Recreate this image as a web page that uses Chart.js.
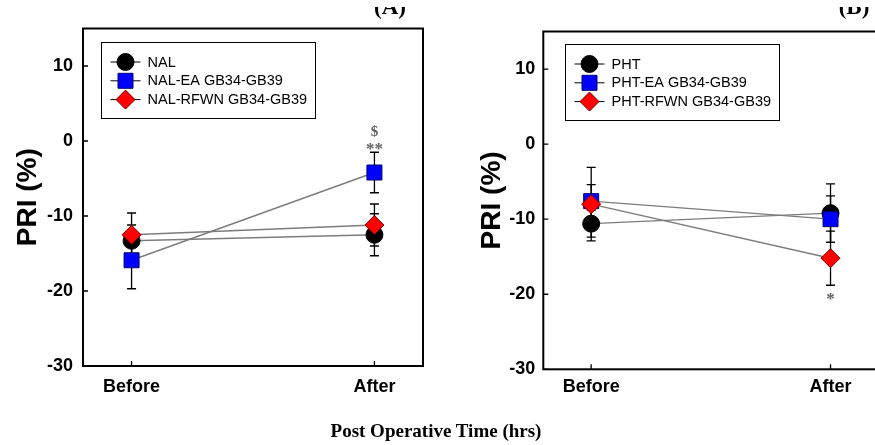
<!DOCTYPE html>
<html>
<head>
<meta charset="utf-8">
<title>PRI before / after</title>
<script src="https://cdn.jsdelivr.net/npm/chart.js@4.4.1/dist/chart.umd.min.js"></script>
<style>
    html, body { margin: 0; padding: 0; background: #fff; }
    body { width: 875px; height: 445px; overflow: hidden; position: relative; }
    canvas { position: absolute; top: 0; }
    #panelA { left: 0; }
    #panelB { left: 440px; }
    #xTitle {
        position: absolute; left: 0; width: 872px; top: 420px;
        text-align: center; line-height: 19px;
        font: bold 19px "Liberation Serif", "Times New Roman", serif;
        color: #000;
    }
</style>
</head>
<body>
<canvas id="panelA" width="440" height="445"></canvas>
<canvas id="panelB" width="450" height="445"></canvas>
<div id="xTitle">Post Operative Time (hrs)</div>

<script>
// Données
const timePoints = ['Before', 'After'];
const yTicks = [-30, -20, -10, 0, 10];
const yLabel = 'PRI (%)';

// Panneau A
const nalLabels = ['NAL', 'NAL-EA GB34-GB39', 'NAL-RFWN GB34-GB39'];
const nalMean = [-13.3, -12.5];
const nalErr = [2.1, 2.8];
const nalEaMean = [-15.9, -4.2];
const nalEaErr = [3.8, 2.7];
const nalRfwnMean = [-12.5, -11.2];
const nalRfwnErr = [2.9, 2.8];
const nalSig = [{ series: 1, point: 1, side: 'above', marks: ['**', '$'] }];

// Panneau B
const phtLabels = ['PHT', 'PHT-EA GB34-GB39', 'PHT-RFWN GB34-GB39'];
const phtMean = [-10.6, -9.2];
const phtErr = [1.8, 3.9];
const phtEaMean = [-7.6, -10.0];
const phtEaErr = [2.2, 3.1];
const phtRfwnMean = [-8.0, -15.2];
const phtRfwnErr = [4.9, 3.6];
const phtSig = [{ series: 2, point: 1, side: 'below', marks: ['*'] }];

// Styles des séries (cercle noir, carré bleu, losange rouge)
const seriesStyles = [
    { shape: 'circle', radius: 8.5, fill: '#000000', edge: '#000000', order: 3 },
    { shape: 'rect', radius: 10.6, fill: '#0000ff', edge: '#00006e', order: 2 },
    { shape: 'rectRot', radius: 9.5, fill: '#ff0000', edge: '#7a0000', order: 1 }
];

const SANS = '"Liberation Sans", Arial, sans-serif';
const SERIF = '"Liberation Serif", "Times New Roman", serif';

// Plugin de décoration : barres d'erreur, cadre, graduations, légende, titres
function makeDecor(cfg) {
    return {
        id: 'decor_' + cfg.name,
        beforeDatasetsDraw(chart) {
            const ctx = chart.ctx;
            const xs = chart.scales.x, ys = chart.scales.y;
            ctx.save();
            ctx.strokeStyle = '#000';
            ctx.lineWidth = 1.3;
            cfg.series.forEach(s => {
                s.mean.forEach((m, i) => {
                    const px = xs.getPixelForValue(i);
                    const top = ys.getPixelForValue(m + s.err[i]);
                    const bot = ys.getPixelForValue(m - s.err[i]);
                    ctx.beginPath();
                    ctx.moveTo(px, top); ctx.lineTo(px, bot);
                    ctx.moveTo(px - 4.5, top); ctx.lineTo(px + 4.5, top);
                    ctx.moveTo(px - 4.5, bot); ctx.lineTo(px + 4.5, bot);
                    ctx.stroke();
                });
            });
            ctx.restore();
        },
        afterDraw(chart) {
            const ctx = chart.ctx;
            const area = chart.chartArea;
            const xs = chart.scales.x, ys = chart.scales.y;
            ctx.save();

            // cadre
            ctx.strokeStyle = '#000';
            ctx.lineWidth = 2;
            ctx.strokeRect(area.left, area.top, area.right - area.left, area.bottom - area.top);

            // graduations vers l'intérieur
            ctx.lineWidth = 1.3;
            ctx.beginPath();
            yTicks.forEach(v => {
                const py = ys.getPixelForValue(v);
                ctx.moveTo(area.left, py); ctx.lineTo(area.left + 5, py);
            });
            timePoints.forEach((_, i) => {
                const px = xs.getPixelForValue(i);
                ctx.moveTo(px, area.bottom); ctx.lineTo(px, area.bottom - 5);
            });
            ctx.stroke();

            // titre de l'axe Y
            ctx.save();
            ctx.translate(cfg.yTitleX, (area.top + area.bottom) / 2);
            ctx.rotate(-Math.PI / 2);
            ctx.fillStyle = '#000';
            ctx.font = 'bold 28px ' + SANS;
            ctx.textAlign = 'center';
            ctx.textBaseline = 'middle';
            ctx.fillText(yLabel, 0, 0);
            ctx.restore();

            // étiquette du panneau (coupée en haut comme sur l'original)
            ctx.save();
            ctx.beginPath();
            ctx.rect(0, 7, chart.width, 20);
            ctx.clip();
            ctx.fillStyle = '#000';
            ctx.font = 'bold 23px ' + SERIF;
            ctx.textAlign = 'center';
            ctx.textBaseline = 'alphabetic';
            ctx.fillText(cfg.panelLabel, cfg.panelLabelX, 14);
            ctx.restore();

            // marques de significativité
            ctx.fillStyle = '#5f5f5f';
            ctx.textAlign = 'center';
            ctx.textBaseline = 'middle';
            cfg.sig.forEach(sg => {
                const s = cfg.series[sg.series];
                const px = xs.getPixelForValue(sg.point);
                const m = s.mean[sg.point], e = s.err[sg.point];
                sg.marks.forEach(txt => {
                    const isStar = txt.indexOf('*') >= 0;
                    ctx.font = 'bold ' + (isStar ? 17 : 15) + 'px ' + SERIF;
                    let py;
                    if (sg.side === 'above') {
                        py = ys.getPixelForValue(m + e) - (isStar ? 3 : 20);
                    } else {
                        py = ys.getPixelForValue(m - e) + 14;
                    }
                    ctx.fillText(txt, px, py);
                });
            });

            // légende
            ctx.font = '14.5px ' + SANS;
            const textW = Math.max(...cfg.series.map(s => ctx.measureText(s.label).width));
            const bx = Math.round(area.left + cfg.legendDx) + 0.5;
            const by = Math.round(area.top + cfg.legendDy) + 0.5;
            ctx.fillStyle = '#fff';
            ctx.fillRect(bx, by, 46 + textW + 8, 76);
            ctx.strokeStyle = '#000';
            ctx.lineWidth = 1;
            ctx.strokeRect(bx, by, Math.round(46 + textW + 8), 76);
            cfg.series.forEach((s, k) => {
                const st = seriesStyles[k];
                const cy = by + 19.5 + k * 18.8;
                ctx.strokeStyle = '#000';
                ctx.lineWidth = 1;
                ctx.beginPath();
                ctx.moveTo(bx + 9, cy); ctx.lineTo(bx + 39, cy);
                ctx.stroke();
                ctx.fillStyle = st.fill;
                ctx.strokeStyle = st.edge;
                Chart.helpers.drawPoint(ctx, {
                    pointStyle: st.shape, radius: st.radius, rotation: 0, borderWidth: 1
                }, bx + 24, cy);
                ctx.fillStyle = '#000';
                ctx.textAlign = 'left';
                ctx.textBaseline = 'middle';
                ctx.fillText(s.label, bx + 46, cy + 0.5);
            });

            ctx.restore();
        }
    };
}

function buildPanel(canvasId, cfg) {
    const datasets = cfg.series.map((s, k) => {
        const st = seriesStyles[k];
        return {
            label: s.label,
            data: s.mean.map((v, i) => ({ x: i, y: v })),
            borderColor: '#7c7c7c',
            borderWidth: 1.4,
            tension: 0,
            fill: false,
            pointStyle: st.shape,
            pointRadius: st.radius,
            pointBackgroundColor: st.fill,
            pointBorderColor: st.edge,
            pointBorderWidth: 1,
            order: st.order
        };
    });

    const tickFont = { family: SANS, weight: 'bold', size: 18 };

    return new Chart(document.getElementById(canvasId), {
        type: 'line',
        data: { datasets },
        options: {
            responsive: false,
            animation: false,
            events: [],
            clip: false,
            layout: { padding: { top: cfg.padTop, right: cfg.padRight, left: 0, bottom: 0 } },
            plugins: { legend: { display: false }, tooltip: { enabled: false } },
            scales: {
                x: {
                    type: 'linear',
                    min: -0.2,
                    max: 1.2,
                    afterBuildTicks: scale => { scale.ticks = timePoints.map((_, i) => ({ value: i })); },
                    afterFit: scale => { scale.height = cfg.xAxisHeight; },
                    grid: { display: false, drawTicks: false },
                    border: { display: false },
                    ticks: {
                        autoSkip: false,
                        maxRotation: 0,
                        padding: cfg.xTickPad,
                        color: '#000',
                        font: tickFont,
                        callback: v => timePoints[v]
                    }
                },
                y: {
                    type: 'linear',
                    min: -30,
                    max: 15,
                    afterBuildTicks: scale => { scale.ticks = yTicks.map(v => ({ value: v })); },
                    afterFit: scale => { scale.width = cfg.yAxisWidth; },
                    grid: { display: false, drawTicks: false },
                    border: { display: false },
                    ticks: { padding: cfg.yTickPad, color: '#000', font: tickFont }
                }
            }
        },
        plugins: [makeDecor(cfg)]
    });
}

buildPanel('panelA', {
    name: 'A',
    series: [
        { label: nalLabels[0], mean: nalMean, err: nalErr },
        { label: nalLabels[1], mean: nalEaMean, err: nalEaErr },
        { label: nalLabels[2], mean: nalRfwnMean, err: nalRfwnErr }
    ],
    sig: nalSig,
    panelLabel: '(A)', panelLabelX: 390,
    padTop: 28.5, padRight: 17, yAxisWidth: 83, xAxisHeight: 79,
    xTickPad: 10, yTickPad: 10, yTitleX: 28.5,
    legendDx: 17.7, legendDy: 13.2
});

buildPanel('panelB', {
    name: 'B',
    series: [
        { label: phtLabels[0], mean: phtMean, err: phtErr },
        { label: phtLabels[1], mean: phtEaMean, err: phtEaErr },
        { label: phtLabels[2], mean: phtRfwnMean, err: phtRfwnErr }
    ],
    sig: phtSig,
    panelLabel: '(B)', panelLabelX: 414,
    padTop: 31.5, padRight: 8, yAxisWidth: 103.3, xAxisHeight: 75.7,
    xTickPad: 7, yTickPad: 8, yTitleX: 52,
    legendDx: 21.7, legendDy: 12.8
});
</script>
</body>
</html>
